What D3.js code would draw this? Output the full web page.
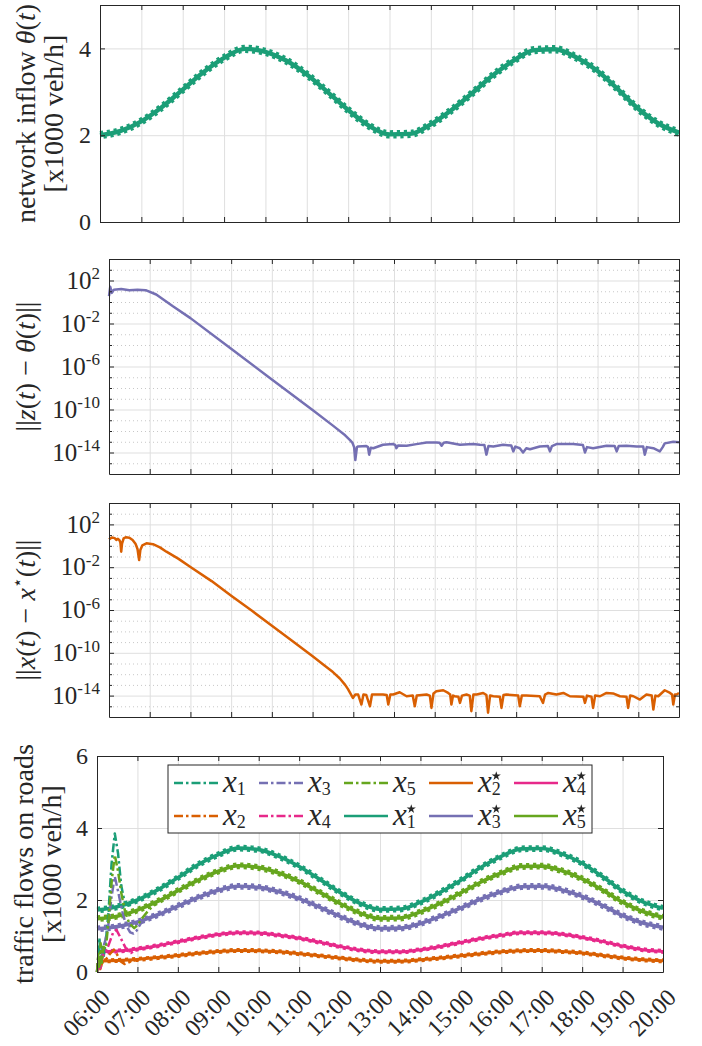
<!DOCTYPE html>
<html>
<head>
<meta charset="utf-8">
<title>network inflow and traffic flows</title>
<script src="https://cdn.jsdelivr.net/npm/d3@7"></script>
<style>
  body { margin: 0; background: #fff; }
  svg { display: block; }
  text { font-family: 'Liberation Serif', 'DejaVu Serif', serif; fill: #262626; }
</style>
</head>
<body>
<svg></svg>
<script>

// time axis (hour of the day)
let hourTicks = [6, 7, 8, 9, 10, 11, 12, 13, 14, 15, 16, 17, 18, 19, 20]
let hourLabels = ['06:00', '07:00', '08:00', '09:00', '10:00', '11:00', '12:00', '13:00',
                  '14:00', '15:00', '16:00', '17:00', '18:00', '19:00', '20:00']

// samples read every half hour
let halfHours = [6, 6.5, 7, 7.5, 8, 8.5, 9, 9.5, 10, 10.5, 11, 11.5, 12, 12.5, 13, 13.5,
                 14, 14.5, 15, 15.5, 16, 16.5, 17, 17.5, 18, 18.5, 19, 19.5, 20]

// network inflow theta(t) [x1000 veh/h]
let inflow = [2.00, 2.10, 2.32, 2.65, 3.05, 3.45, 3.78, 3.99, 3.92, 3.72, 3.40, 3.00, 2.58, 2.22,
              2.02, 2.03, 2.25, 2.58, 2.97, 3.38, 3.72, 3.96, 3.98, 3.80, 3.50, 3.08, 2.62, 2.27, 2.06]

// optimal flows x1*..x5*
let x1Star = [1.72, 1.81, 2.00, 2.28, 2.62, 2.98, 3.26, 3.44, 3.40, 3.21, 2.93, 2.58, 2.22, 1.91,
              1.74, 1.75, 1.94, 2.22, 2.55, 2.91, 3.21, 3.42, 3.43, 3.28, 3.02, 2.65, 2.25, 1.95, 1.77]
let x2Star = [0.30, 0.32, 0.35, 0.40, 0.46, 0.52, 0.57, 0.60, 0.59, 0.56, 0.51, 0.45, 0.39, 0.33,
              0.30, 0.30, 0.34, 0.39, 0.45, 0.51, 0.56, 0.59, 0.60, 0.57, 0.53, 0.46, 0.39, 0.34, 0.31]
let x3Star = [1.20, 1.26, 1.39, 1.59, 1.83, 2.07, 2.27, 2.38, 2.35, 2.23, 2.04, 1.80, 1.55, 1.33,
              1.21, 1.22, 1.35, 1.55, 1.78, 2.03, 2.23, 2.37, 2.38, 2.28, 2.10, 1.85, 1.57, 1.36, 1.24]
let x4Star = [0.55, 0.58, 0.64, 0.73, 0.84, 0.95, 1.04, 1.09, 1.08, 1.02, 0.94, 0.83, 0.71, 0.61,
              0.56, 0.56, 0.62, 0.71, 0.82, 0.93, 1.02, 1.09, 1.09, 1.05, 0.96, 0.85, 0.72, 0.62, 0.57]
let x5Star = [1.48, 1.55, 1.72, 1.96, 2.26, 2.55, 2.80, 2.95, 2.90, 2.75, 2.52, 2.22, 1.91, 1.64,
              1.49, 1.50, 1.67, 1.91, 2.20, 2.50, 2.75, 2.93, 2.94, 2.81, 2.59, 2.28, 1.94, 1.68, 1.52]

// flows x1..x5 during the start-up transient (after that they sit on x*)
let x1Time = [6.00, 6.03, 6.06, 6.09, 6.12, 6.16, 6.21, 6.28, 6.36, 6.44, 6.52, 6.60, 6.68, 6.76, 6.88, 7.00]
let x1 = [0.00, 0.35, 0.95, 0.25, 0.70, 0.40, 0.75, 1.60, 3.00, 3.85, 3.30, 2.40, 1.95, 1.85, 1.95, 2.00]
let x2Time = [6.00, 6.04, 6.08, 6.14, 6.22, 6.32, 6.42, 6.50, 6.58, 6.68, 6.82, 7.00]
let x2 = [0.00, 0.28, 0.08, 0.30, 0.35, 0.50, 0.62, 0.48, 0.30, 0.22, 0.28, 0.35]
let x3Time = [6.00, 6.04, 6.08, 6.13, 6.20, 6.28, 6.36, 6.44, 6.52, 6.62, 6.72, 6.82, 6.90, 6.98, 7.10, 7.25, 7.40]
let x3 = [0.00, 0.45, 0.10, 0.60, 0.85, 1.30, 2.10, 2.65, 2.25, 1.70, 1.30, 1.10, 1.07, 1.15, 1.38, 1.50, 1.56]
let x4Time = [6.00, 6.04, 6.08, 6.14, 6.22, 6.32, 6.40, 6.48, 6.56, 6.64, 6.74, 6.84, 6.94, 7.06]
let x4 = [0.00, 0.40, 0.05, 0.45, 0.55, 0.85, 1.10, 1.17, 1.00, 0.82, 0.60, 0.53, 0.60, 0.66]
let x5Time = [6.00, 6.03, 6.06, 6.09, 6.12, 6.16, 6.22, 6.29, 6.37, 6.44, 6.52, 6.60, 6.70, 6.80, 6.92, 7.00, 7.12, 7.25, 7.40, 7.50]
let x5 = [0.00, 0.50, 0.10, 0.80, 0.25, 0.70, 0.65, 1.50, 2.60, 3.25, 2.80, 2.20, 1.65, 1.35, 1.22, 1.30, 1.50, 1.68, 1.85, 1.96]

// ||z(t) - theta(t)||  as [hour, log10 value]
let errZ = [[6.00,0.54],[6.03,1.41],[6.07,0.85],[6.12,1.15],[6.30,1.20],[6.50,1.10],[6.70,1.15],[6.90,1.10],
  [7.16,0.70],[7.57,-0.40],[8.00,-1.50],[9.00,-4.35],[10.00,-7.20],[11.00,-10.05],[11.50,-11.50],[11.80,-12.40],
  [11.92,-12.85],[11.98,-13.10],[12.02,-13.50],[12.05,-14.7],[12.09,-13.5],
  [12.12,-13.44],[12.32,-13.40],[12.36,-13.5],[12.39,-14.2],[12.43,-13.55],[12.49,-13.60],[12.73,-13.28],[12.98,-13.22],
  [13.03,-13.30],[13.06,-13.60],[13.10,-13.35],[13.31,-13.37],[13.55,-13.22],[13.80,-13.07],[14.04,-13.07],[14.12,-13.10],
  [14.17,-13.37],[14.22,-13.10],[14.29,-13.04],[14.62,-13.28],[14.94,-13.22],[15.11,-13.28],[15.22,-13.30],[15.27,-14.2],
  [15.32,-13.40],[15.44,-13.44],[15.68,-13.28],[15.88,-13.35],[15.93,-13.9],[15.98,-13.45],[16.09,-13.60],[16.17,-14.0],
  [16.25,-13.60],[16.34,-13.70],[16.58,-13.44],[16.78,-13.40],[16.83,-13.9],[16.88,-13.40],[16.99,-13.22],[17.40,-13.22],
  [17.64,-13.30],[17.69,-14.0],[17.74,-13.50],[17.89,-13.60],[18.22,-13.37],[18.42,-13.40],[18.47,-13.9],[18.52,-13.40],
  [18.71,-13.37],[18.96,-13.44],[19.12,-13.45],[19.16,-14.2],[19.21,-13.50],[19.37,-13.60],[19.53,-13.9],[19.60,-13.50],
  [19.65,-13.15],[19.86,-13.0],[20.00,-13.04]]

// ||x(t) - x*(t)||  as [hour, log10 value]
let errX = [[6.00,0.60],[6.07,0.78],[6.14,0.72],[6.18,0.55],[6.22,0.66],[6.26,0.50],[6.28,0.30],[6.30,-0.55],
  [6.32,0.20],[6.36,0.70],[6.41,0.80],[6.50,0.76],[6.58,0.55],[6.65,0.20],[6.70,-0.30],[6.74,-1.33],[6.77,-0.40],
  [6.82,0.05],[6.92,0.23],[7.08,0.15],[7.25,-0.15],[7.41,-0.55],[7.70,-1.20],[8.01,-2.00],[8.52,-3.30],[9.01,-4.70],
  [9.52,-6.10],[10.01,-7.50],[10.52,-8.95],[11.01,-10.35],[11.30,-11.20],[11.50,-11.80],[11.67,-12.40],[11.80,-13.0],
  [11.87,-13.4],[11.99,-14.22],[12.05,-13.9],[12.12,-13.9],[12.20,-14.84],[12.25,-13.9],[12.32,-13.95],[12.41,-15.0],
  [12.46,-13.9],[12.73,-13.9],[12.82,-13.95],[12.86,-14.84],[12.91,-13.9],[12.98,-13.9],[13.14,-13.69],[13.31,-14.06],
  [13.46,-14.0],[13.51,-15.0],[13.56,-14.0],[13.80,-13.9],[13.88,-14.0],[13.92,-15.15],[13.97,-13.8],[14.04,-13.6],
  [14.21,-13.5],[14.33,-13.75],[14.38,-13.9],[14.41,-14.84],[14.45,-14.0],[14.49,-14.06],[14.58,-14.1],[14.62,-14.68],
  [14.67,-14.0],[14.78,-13.9],[14.86,-14.0],[14.90,-15.46],[14.95,-13.9],[15.03,-13.9],[15.19,-13.75],[15.27,-13.95],
  [15.31,-15.6],[15.36,-14.0],[15.44,-14.06],[15.60,-14.1],[15.64,-15.15],[15.69,-13.95],[15.76,-13.9],[16.05,-14.0],
  [16.09,-15.0],[16.14,-14.0],[16.25,-14.0],[16.58,-14.06],[16.66,-14.68],[16.71,-13.9],[16.79,-13.75],[16.99,-13.9],
  [17.16,-13.75],[17.32,-14.06],[17.65,-14.1],[17.69,-14.68],[17.74,-14.0],[17.85,-14.1],[17.89,-15.15],[17.94,-14.0],
  [18.06,-14.06],[18.22,-13.75],[18.38,-13.8],[18.55,-14.06],[18.71,-14.1],[18.75,-15.15],[18.80,-14.0],[18.88,-14.06],
  [19.04,-14.37],[19.20,-13.9],[19.33,-14.0],[19.37,-15.3],[19.42,-14.0],[19.49,-14.06],[19.65,-13.5],[19.78,-13.75],
  [19.83,-13.9],[19.86,-14.84],[19.90,-13.9],[19.94,-13.9],[20.00,-13.75]]

// log axis ticks (decades)
let logMajor = [2, -2, -6, -10, -14]
let logMinor = [3, 1, 0, -1, -3, -4, -5, -7, -8, -9, -11, -12, -13, -15]

let roadNames = ['1', '2', '3', '4', '5']
let colors = ['#1b9e77', '#d95f02', '#7570b3', '#e7298a', '#66a61e']


// canvas
let width = 702
let height = 1046
let ink = '#262626'
let gridColor = '#dfdfdf'
let minorColor = '#c8c8c8'
let tickFont = 24
let labelFont = 28

let svg = d3.select('svg').attr('width', width).attr('height', height)

let panels = [
  {left: 100, right: 679, top: 5, bottom: 222},
  {left: 109, right: 679, top: 259, bottom: 474},
  {left: 109, right: 679, top: 503, bottom: 717},
  {left: 97, right: 663, top: 756, bottom: 972}
]

let xScales = panels.map(p => d3.scaleLinear().domain([6, 20]).range([p.left, p.right]))
let yInflow = d3.scaleLinear().domain([0, 5]).range([panels[0].bottom, panels[0].top])
let yErrZ = d3.scaleLog().domain([1e-16, 1e4]).range([panels[1].bottom, panels[1].top])
let yErrX = d3.scaleLog().domain([1e-16, 1e4]).range([panels[2].bottom, panels[2].top])
let yFlow = d3.scaleLinear().domain([0, 6]).range([panels[3].bottom, panels[3].top])

let dec = e => Math.pow(10, e)

// small helper for labels made of roman / italic / raised pieces
let writeParts = (text, parts) => {
  parts.forEach(p => {
    let t = text.append('tspan').text(p.s)
    if (p.i) t.attr('font-style', 'italic')
    if (p.size) t.attr('font-size', p.size)
    if (p.dy) t.attr('dy', p.dy)
  })
}

let styleAxis = g => {
  g.attr('color', ink).attr('font-size', tickFont).attr('font-family', null)
  g.select('.domain').attr('stroke-width', 1)
}

let drawGrid = (i, y, yValues, minorValues) => {
  let p = panels[i]
  let x = xScales[i]
  let gx = svg.append('g')
    .attr('transform', 'translate(0,' + p.bottom + ')')
    .call(d3.axisBottom(x).tickValues(hourTicks).tickSize(-(p.bottom - p.top)).tickFormat(''))
  gx.select('.domain').remove()
  gx.selectAll('line').attr('stroke', gridColor)

  if (minorValues) {
    let gm = svg.append('g')
      .attr('transform', 'translate(' + p.left + ',0)')
      .call(d3.axisLeft(y).tickValues(minorValues).tickSize(-(p.right - p.left)).tickFormat(''))
    gm.select('.domain').remove()
    gm.selectAll('line').attr('stroke', minorColor).attr('stroke-dasharray', '1,3')
  }

  let gy = svg.append('g')
    .attr('transform', 'translate(' + p.left + ',0)')
    .call(d3.axisLeft(y).tickValues(yValues).tickSize(-(p.right - p.left)).tickFormat(''))
  gy.select('.domain').remove()
  gy.selectAll('line').attr('stroke', gridColor)
}

let drawBox = (i, y, yValues, yFormat, minorValues) => {
  let p = panels[i]
  let x = xScales[i]

  svg.append('g').attr('transform', 'translate(0,' + p.top + ')')
    .call(d3.axisTop(x).tickValues(hourTicks).tickSizeInner(-5).tickSizeOuter(0).tickFormat(''))
    .call(styleAxis)

  let bottom = svg.append('g').attr('transform', 'translate(0,' + p.bottom + ')')
    .call(d3.axisBottom(x).tickValues(hourTicks).tickSizeInner(-5).tickSizeOuter(0)
      .tickFormat(i == 3 ? (d, k) => hourLabels[k] : ''))
    .call(styleAxis)
  if (i == 3) {
    bottom.selectAll('.tick text')
      .attr('x', 0).attr('y', 0).attr('dy', null)
      .attr('text-anchor', 'end')
      .attr('transform', 'translate(14,27) rotate(-45)')
  }

  let left = svg.append('g').attr('transform', 'translate(' + p.left + ',0)')
    .call(d3.axisLeft(y).tickValues(yValues).tickSizeInner(-5).tickSizeOuter(0).tickPadding(9).tickFormat(yFormat))
    .call(styleAxis)

  svg.append('g').attr('transform', 'translate(' + p.right + ',0)')
    .call(d3.axisRight(y).tickValues(yValues).tickSizeInner(-5).tickSizeOuter(0).tickFormat(''))
    .call(styleAxis)

  if (minorValues) {
    svg.append('g').attr('transform', 'translate(' + p.left + ',0)')
      .call(d3.axisLeft(y).tickValues(minorValues).tickSizeInner(-3).tickSizeOuter(0).tickFormat(''))
      .call(styleAxis).call(g => g.select('.domain').remove())
    svg.append('g').attr('transform', 'translate(' + p.right + ',0)')
      .call(d3.axisRight(y).tickValues(minorValues).tickSizeInner(-3).tickSizeOuter(0).tickFormat(''))
      .call(styleAxis).call(g => g.select('.domain').remove())

    // 10^e labels
    left.selectAll('.tick text').each(function (d) {
      let t = d3.select(this)
      let e = Math.round(Math.log10(d))
      t.text(null)
      t.append('tspan').attr('font-size', 25).text('10')
      t.append('tspan').attr('font-size', 17).attr('dy', '-0.55em').text(e)
    })
  }
}

// a thick line with alternating teeth above and below, like the fast ripple in the original
let drawRippleLine = (x, y, points, color, w, a) => {
  let line = d3.line().x(d => x(d[0])).y(d => y(d[1])).curve(d3.curveMonotoneX)
  let g = svg.append('g').attr('fill', 'none').attr('stroke', color)
  g.append('path').datum(points).attr('d', line).attr('stroke-width', w)
  g.append('path').datum(points).attr('d', line).attr('stroke-width', w)
    .attr('transform', 'translate(0,' + (-a) + ')')
    .attr('stroke-dasharray', '3.2,3.8')
  g.append('path').datum(points).attr('d', line).attr('stroke-width', w)
    .attr('transform', 'translate(0,' + a + ')')
    .attr('stroke-dasharray', '3.2,3.8').attr('stroke-dashoffset', 3.5)
}

let drawPlainLine = (x, y, points, color, dash) => {
  let line = d3.line().x(d => x(d[0])).y(d => y(d[1]))
  svg.append('path').datum(points)
    .attr('d', line).attr('fill', 'none').attr('stroke', color)
    .attr('stroke-width', 2.5).attr('stroke-linejoin', 'round')
    .attr('stroke-dasharray', dash)
}

let yLabel = (x, y, lines) => {
  lines.forEach((parts, k) => {
    let t = svg.append('text')
      .attr('transform', 'translate(' + (x + k * 28) + ',' + y + ') rotate(-90)')
      .attr('text-anchor', 'middle').attr('font-size', labelFont)
    writeParts(t, parts)
  })
}


// panel 1: network inflow
let createInflow = () => {
  let x = xScales[0]
  drawGrid(0, yInflow, [0, 2, 4])
  drawRippleLine(x, yInflow, halfHours.map((h, k) => [h, inflow[k]]), colors[0], 4.4, 2.0)
  drawBox(0, yInflow, [0, 2, 4], d => d)
  yLabel(35, (panels[0].top + panels[0].bottom) / 2, [
    [{s: 'network inflow '}, {s: 'θ', i: 1}, {s: '('}, {s: 't', i: 1}, {s: ')'}],
    [{s: '[x1000 veh/h]'}]
  ])
}

// panels 2 and 3: errors on a log axis
let createError = (i, y, data, color, label) => {
  let x = xScales[i]
  drawGrid(i, y, logMajor.map(dec), logMinor.map(dec))
  drawPlainLine(x, y, data.map(d => [d[0], dec(d[1])]), color, null)
  drawBox(i, y, logMajor.map(dec), '', logMinor.map(dec))
  yLabel(35, (panels[i].top + panels[i].bottom) / 2, [label])
}

// panel 4: traffic flows on roads
let createFlows = () => {
  let x = xScales[3]
  let stars = [x1Star, x2Star, x3Star, x4Star, x5Star]
  let starts = [[x1Time, x1], [x2Time, x2], [x3Time, x3], [x4Time, x4], [x5Time, x5]]
  drawGrid(3, yFlow, [0, 2, 4, 6])
  stars.forEach((s, k) => {
    let small = (k == 1 || k == 3)
    drawRippleLine(x, yFlow, halfHours.map((h, j) => [h, s[j]]), colors[k], small ? 3.0 : 3.6, small ? 1.0 : 1.6)
  })
  starts.forEach((s, k) => {
    drawPlainLine(x, yFlow, s[0].map((h, j) => [h, s[1][j]]), colors[k], '9,3,2.5,3')
  })
  drawBox(3, yFlow, [0, 2, 4, 6], d => d)
  yLabel(33, (panels[3].top + panels[3].bottom) / 2, [
    [{s: 'traffic flows on roads'}],
    [{s: '[x1000 veh/h]'}]
  ])
}

let createLegend = () => {
  let box = {x: 168, y: 765, w: 424, h: 68}
  let g = svg.append('g')
  g.append('rect').attr('x', box.x).attr('y', box.y).attr('width', box.w).attr('height', box.h)
    .attr('fill', '#fff').attr('stroke', ink).attr('stroke-width', 1)

  let entries = roadNames.map((n, k) => ({n: n, c: colors[k], star: false}))
    .concat(roadNames.map((n, k) => ({n: n, c: colors[k], star: true})))

  let star = d3.symbol(d3.symbolStar).size(26)

  entries.forEach((e, k) => {
    let col = Math.floor(k / 2)
    let row = k % 2
    let lx = 174 + col * 85
    let ly = 783 + row * 33
    g.append('line').attr('x1', lx).attr('x2', lx + 44).attr('y1', ly).attr('y2', ly)
      .attr('stroke', e.c).attr('stroke-width', 2.5)
      .attr('stroke-dasharray', e.star ? null : '9,3,2.5,3')
    let t = g.append('text').attr('x', lx + 49).attr('y', ly + 9).attr('font-size', 31)
    let xPart = t.append('tspan').attr('font-style', 'italic').text('x')
    t.append('tspan').attr('font-size', 18).attr('dy', 3).text(e.n)
    if (e.star) {
      let w = xPart.node().getComputedTextLength()
      g.append('path').attr('d', star)
        .attr('transform', 'translate(' + (lx + 49 + w + 4.5) + ',' + (ly - 7) + ')')
        .attr('fill', ink)
    }
  })
}

createInflow()
createError(1, yErrZ, errZ, colors[2],
  [{s: '||'}, {s: 'z', i: 1}, {s: '('}, {s: 't', i: 1}, {s: ') − '}, {s: 'θ', i: 1}, {s: '('}, {s: 't', i: 1}, {s: ')||'}])
createError(2, yErrX, errX, colors[1],
  [{s: '||'}, {s: 'x', i: 1}, {s: '('}, {s: 't', i: 1}, {s: ') − '}, {s: 'x', i: 1},
   {s: '⋆', size: 17, dy: -12}, {s: '(', dy: 12}, {s: 't', i: 1}, {s: ')||'}])
createFlows()
createLegend()

</script>
</body>
</html>
